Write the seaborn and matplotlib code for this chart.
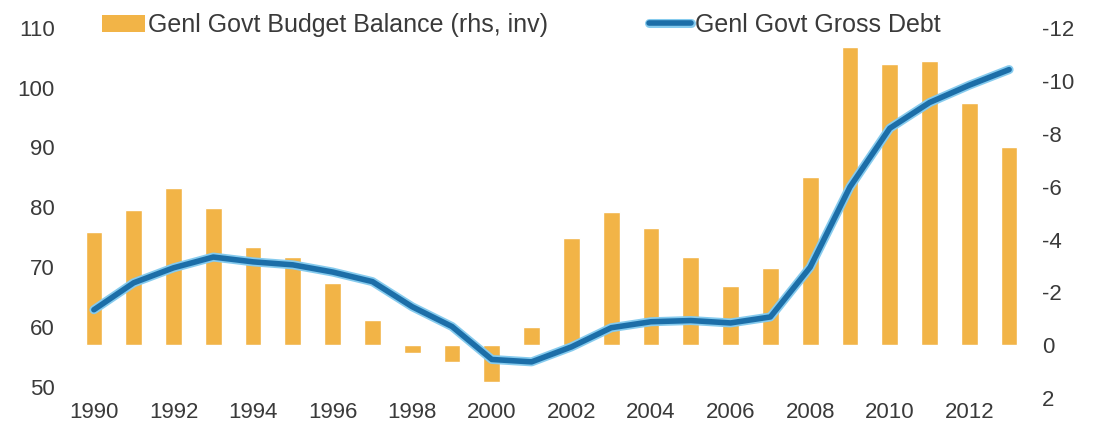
import matplotlib
matplotlib.use("Agg")
import matplotlib.pyplot as plt
import matplotlib.patheffects as pe
from matplotlib.patches import Patch
from matplotlib.lines import Line2D
import seaborn as sns
import pandas as pd

years = list(range(1990, 2014))
budget_balance = [-4.28, -5.11, -5.95, -5.19, -3.71, -3.33, -2.35, -0.95, 0.3, 0.65, 1.4, -0.68,
                  -4.05, -5.04, -4.43, -3.33, -2.23, -2.92, -6.36, -11.3, -10.64, -10.76, -9.17, -7.5]
gross_debt = [62.9, 67.4, 69.9, 71.7, 70.9, 70.4, 69.2, 67.6, 63.4, 60.1, 54.6, 54.2,
              56.7, 59.9, 60.9, 61.1, 60.7, 61.7, 70.0, 83.4, 93.2, 97.5, 100.4, 103.0]
left_ticks = [50, 60, 70, 80, 90, 100, 110]
right_ticks = [2, 0, -2, -4, -6, -8, -10, -12]
x_ticks = list(range(1990, 2013, 2))

bar_label = "Genl Govt Budget Balance (rhs, inv)"
line_label = "Genl Govt Gross Debt"

df = pd.DataFrame({"year": years, "balance": budget_balance, "debt": gross_debt})

sns.set_theme(style="white")
plt.rcParams["font.family"] = ["Liberation Sans", "DejaVu Sans"]

BAR = "#F2B447"
LINE = "#1C6EA8"
HALO = "#86CBEE"
TXT = "#3a3a3a"

fig = plt.figure(figsize=(10.94, 4.28), dpi=100)
W, H = 1094, 428
top_px, bot_px = 27.5, 398
ax = fig.add_axes([70 / W, (H - bot_px) / H, (1033 - 70) / W, (bot_px - top_px) / H])

sns.barplot(data=df, x="year", y="balance", native_scale=True, width=0.42,
            color=BAR, saturation=1, ax=ax, errorbar=None, zorder=2)

ax2 = ax.twinx()
sns.lineplot(data=df, x="year", y="debt", ax=ax2, color=LINE, linewidth=4.0,
             path_effects=[pe.Stroke(linewidth=6.5, foreground=HALO), pe.Normal()])

ax.set_ylim(2.0, -12.03)
ax.set_yticks(right_ticks)
ax.set_yticklabels([f"{t:d}" for t in right_ticks])
ax2.set_ylim(50 - 11 / 6.0, 110.03)
ax2.set_yticks(left_ticks)
ax2.set_yticklabels([str(t) for t in left_ticks])

ax.set_xlim(1989.4, 2013.6)
ax.set_xticks(x_ticks)
ax.set_xticklabels([str(t) for t in x_ticks])

for a in (ax, ax2):
    a.set_xlabel("")
    a.set_ylabel("")
    for s in a.spines.values():
        s.set_visible(False)
    a.grid(False)
    a.tick_params(length=0, labelsize=16, colors=TXT)

ax.yaxis.set_ticks_position("right")
ax.tick_params(axis="y", which="both", left=False, labelleft=False,
               right=False, labelright=True, pad=6.5)
ax2.yaxis.set_ticks_position("left")
ax2.tick_params(axis="y", which="both", right=False, labelright=False,
                left=False, labelleft=True, pad=11)
ax.tick_params(axis="x", pad=3)
for lab in ax.get_yticklabels():
    lab.set_horizontalalignment("left")

handles = [Patch(facecolor=BAR, edgecolor="none"),
           Line2D([0], [0], color=LINE, linewidth=4.0,
                  path_effects=[pe.Stroke(linewidth=6.5, foreground=HALO), pe.Normal()])]
fig.legend(handles, [bar_label, line_label], loc="upper left",
           bbox_to_anchor=(102 / W, 1 - 13 / H), ncol=2, frameon=False,
           fontsize=18, handlelength=1.7, handleheight=0.65, handletextpad=0.16,
           columnspacing=4.0, borderpad=0.0, borderaxespad=0.0, labelcolor=TXT)

fig.savefig("out.png", dpi=100)
